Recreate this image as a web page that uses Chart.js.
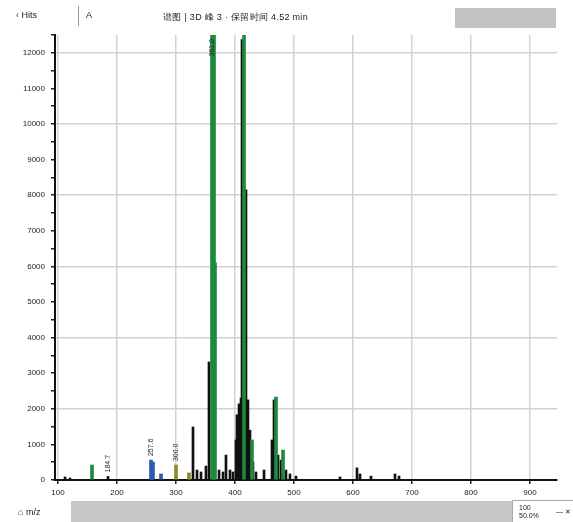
<!DOCTYPE html>
<html>
<head>
<meta charset="utf-8">
<script src="https://cdn.jsdelivr.net/npm/chart.js@4.4.1/dist/chart.umd.min.js"></script>
<style>
  html, body { margin: 0; padding: 0; background: #fff; }
  body { width: 573px; height: 522px; position: relative; overflow: hidden;
         font-family: "Liberation Sans", Arial, sans-serif; color: #222; }
  #wrap { position: absolute; left: 0; top: 0; width: 573px; height: 522px; }
  .hdr { position: absolute; font-size: 9px; white-space: nowrap; }
  #back { left: 16px; top: 10px; }
  #sep { position: absolute; left: 78px; top: 6px; width: 1px; height: 20px; background: #999; }
  #mode { left: 86px; top: 10px; }
  #title { left: 163px; top: 11px; letter-spacing: 0.3px; }
  #search { position: absolute; left: 455px; top: 8px; width: 101px; height: 20px; background: #c3c3c3; }
  #foot-left { left: 18px; top: 507px; }
  #scroll { position: absolute; left: 71px; top: 501px; width: 441px; height: 21px; background: #c6c6c6; }
  #zoombox { position: absolute; left: 512px; top: 500px; width: 61px; height: 22px;
             border-left: 1px solid #aaa; border-top: 1px solid #aaa; background: #fff; }
  #zoombox .a { position: absolute; left: 6px; top: 3px; font-size: 7px; line-height: 8px; }
  #zoombox .b { position: absolute; right: 3px; top: 7px; font-size: 7px; }
</style>
</head>
<body>
<div id="wrap"><canvas id="c" width="573" height="522"></canvas></div>
<div class="hdr" id="back">‹ Hits</div>
<div id="sep"></div>
<div class="hdr" id="mode">A</div>
<div class="hdr" id="title">谱图 | 3D 峰 3 · 保留时间 4.52 min</div>
<div id="search"></div>
<div class="hdr" id="foot-left">⌂ m/z</div>
<div id="scroll"></div>
<div id="zoombox"><div class="a">100<br>50.0%</div><div class="b">— ✕</div></div>
<script>
// m/z positions and intensities, one pair of arrays per trace colour
const blackMz  = [111.9, 120.3, 184.7, 328.8, 335.6, 342.4, 350.8, 355.9, 372.9, 379.7, 384.7, 391.5, 396.6, 401.7, 403.4, 406.8, 410.2, 411.9, 418.6, 422.0, 425.4, 430.5, 435.6, 449.2, 462.7, 466.1, 472.9, 478.0, 486.4, 493.2, 503.4, 578.0, 606.8, 611.9, 630.5, 671.2, 678.0];
const blackInt = [85, 55, 100, 1490, 280, 225, 390, 3315, 280, 225, 700, 280, 225, 1125, 1830, 2140, 2300, 12370, 8150, 2250, 1400, 505, 225, 280, 1125, 2250, 700, 560, 280, 170, 110, 85, 340, 170, 110, 170, 110];

const greenMz  = [157.6, 361.0, 364.4, 366.1, 415.3, 428.8, 469.5, 481.4];
const greenInt = [420, 13600, 13600, 6100, 13200, 1125, 2330, 840];

const blueMz   = [257.6, 261.0, 274.6];
const blueInt  = [560, 505, 170];

const oliveMz  = [300.0, 322.0];
const oliveInt = [420, 200];

// labelled peaks (rotated m/z labels)
const labelMz  = [184.7, 257.6, 300.0, 361.0];
const labelInt = [100, 560, 420, 13600];

// axis ticks: labelled every 1000, small marks every 500
const xTicks = [100, 200, 300, 400, 500, 600, 700, 800, 900];
const yTicks = [];
for (let v = 0; v <= 12500; v += 500) yTicks.push(v);

const X_MIN = 94.9, X_MAX = 945.8, Y_MAX = 12500;

function pairs(xs, ys) { return xs.map((x, i) => ({ x: x, y: ys[i] })); }

const peakLabels = {
  id: 'peakLabels',
  afterDatasetsDraw(chart) {
    const { ctx, chartArea, scales } = chart;
    ctx.save();
    ctx.font = '7px "Liberation Sans", Arial, sans-serif';
    ctx.fillStyle = '#222';
    ctx.textBaseline = 'middle';
    labelMz.forEach((mz, i) => {
      const px = scales.x.getPixelForValue(mz);
      let py = scales.y.getPixelForValue(labelInt[i]) - 4;
      const txt = mz.toFixed(1);
      const w = ctx.measureText(txt).width;
      if (py - w < chartArea.top + 4) py = chartArea.top + 4 + w;
      ctx.save();
      ctx.translate(px, py);
      ctx.rotate(-Math.PI / 2);
      ctx.textAlign = 'left';
      ctx.fillText(txt, 0, 0);
      ctx.restore();
    });
    ctx.restore();
  }
};

const tickFont = { family: '"Liberation Sans", Arial, sans-serif', size: 8 };

new Chart(document.getElementById('c'), {
  type: 'bar',
  data: {
    datasets: [
      { label: 'green', data: pairs(greenMz, greenInt), backgroundColor: '#1e8a40', barThickness: 3, order: 1 },
      { label: 'blue',  data: pairs(blueMz, blueInt),   backgroundColor: '#2b5cb3', barThickness: 3, order: 2 },
      { label: 'olive', data: pairs(oliveMz, oliveInt), backgroundColor: '#8e8b2f', barThickness: 3, order: 3 },
      { label: 'black', data: pairs(blackMz, blackInt), backgroundColor: '#111111', barThickness: 2, order: 4 }
    ]
  },
  options: {
    responsive: false,
    animation: false,
    grouped: false,
    layout: { padding: { left: 0, top: 35, right: 16, bottom: 22 } },
    plugins: { legend: { display: false }, tooltip: { enabled: false } },
    scales: {
      x: {
        type: 'linear',
        min: X_MIN, max: X_MAX,
        offset: false,
        afterBuildTicks(scale) { scale.ticks = xTicks.map(v => ({ value: v })); },
        afterFit(scale) { scale.height = 20; },
        ticks: { autoSkip: false, maxRotation: 0, padding: 4, color: '#222', font: tickFont,
                 callback: v => String(v) },
        grid: { offset: false, color: '#d2d2d2', lineWidth: 1.5, tickColor: '#222', tickLength: 4 },
        border: { display: true, color: '#111', width: 2 }
      },
      y: {
        min: 0, max: Y_MAX,
        afterBuildTicks(scale) { scale.ticks = yTicks.map(v => ({ value: v })); },
        afterFit(scale) { scale.width = 55; },
        ticks: { autoSkip: false, padding: 6, color: '#222', font: tickFont,
                 callback: v => (v % 1000 === 0 ? String(v) : '') },
        grid: {
          color: c => (c.tick && c.tick.value > 0 && c.tick.value % 2000 === 0 ? '#d2d2d2' : 'rgba(0,0,0,0)'),
          lineWidth: 1.5, tickColor: '#222', tickLength: 4
        },
        border: { display: true, color: '#111', width: 2 }
      }
    }
  },
  plugins: [peakLabels]
});
</script>
</body>
</html>
